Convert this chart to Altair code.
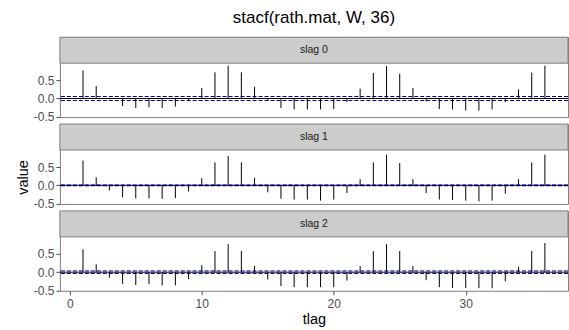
import altair as alt
import pandas as pd

FONT = "Liberation Sans"

tlag = list(range(1, 37))
slag0 = [0.77, 0.34, -0.02, -0.21, -0.26, -0.24, -0.26, -0.22, -0.06, 0.29, 0.72, 0.90,
         0.72, 0.32, -0.06, -0.26, -0.30, -0.30, -0.30, -0.29, -0.10, 0.27, 0.70, 0.89,
         0.68, 0.29, -0.08, -0.29, -0.30, -0.33, -0.33, -0.30, -0.10, 0.25, 0.71, 0.90]
slag1 = [0.68, 0.22, -0.14, -0.33, -0.36, -0.36, -0.37, -0.35, -0.17, 0.20, 0.63, 0.81,
         0.63, 0.21, -0.19, -0.37, -0.39, -0.39, -0.42, -0.39, -0.21, 0.17, 0.63, 0.84,
         0.61, 0.17, -0.21, -0.39, -0.40, -0.42, -0.44, -0.42, -0.23, 0.17, 0.63, 0.84]
slag2 = [0.63, 0.22, -0.15, -0.32, -0.35, -0.33, -0.36, -0.36, -0.19, 0.19, 0.58, 0.77,
         0.58, 0.17, -0.20, -0.38, -0.41, -0.41, -0.41, -0.41, -0.23, 0.17, 0.58, 0.77,
         0.58, 0.17, -0.22, -0.41, -0.43, -0.43, -0.44, -0.44, -0.25, 0.15, 0.58, 0.80]
bounds = [0.055, 0.012, 0.035]
y_ticks = [-0.5, 0.0, 0.5]
y_tick_labels = ["-0.5", "0.0", "0.5"]
x_ticks = [0, 10, 20, 30]
strip_labels = ["slag 0", "slag 1", "slag 2"]
series = [slag0, slag1, slag2]

W = 509
SH = 26
PH = 54
H = SH + PH
LABEL_EXPR = ("datum.value < -0.25 ? '%s' : (datum.value > 0.25 ? '%s' : '%s')"
              % (y_tick_labels[0], y_tick_labels[2], y_tick_labels[1]))


def panel(vals, bound, label, show_x, show_ytitle):
    df = pd.DataFrame({"tlag": tlag, "value": vals})
    ref = pd.DataFrame({"label": [label], "zero": [0.0]})
    xscale = alt.Scale(domain=[-0.75, 37.75], nice=False, zero=False)
    if show_x:
        xenc = alt.X("tlag:Q", scale=xscale,
                     axis=alt.Axis(values=x_ticks, tickCount=10, title="tlag", grid=False,
                                   domain=False,
                                   tickColor="#4D4D4D", tickSize=4, labelPadding=4,
                                   labelColor="#4D4D4D", labelFont=FONT, labelFontSize=12,
                                   labelOverlap=False,
                                   titleFont=FONT, titleFontSize=14.5, titleFontWeight="normal",
                                   titleColor="black", titlePadding=3))
    else:
        xenc = alt.X("tlag:Q", scale=xscale, axis=None)
    yaxis = alt.Axis(values=y_ticks, tickCount=6, labelExpr=LABEL_EXPR, grid=False, domain=False,
                     tickColor="#4D4D4D", tickSize=4, labelPadding=2, labelOverlap=False,
                     labelColor="#4D4D4D", labelFont=FONT, labelFontSize=12,
                     titleFont=FONT, titleFontSize=14.5, titleFontWeight="normal",
                     titleColor="black", titlePadding=3, titleY=SH + PH / 2,
                     title="value" if show_ytitle else None)
    yenc = alt.Y("value:Q", scale=alt.Scale(domain=[-0.51, 0.97], nice=False, zero=False,
                                            range=[H, SH]),
                 axis=yaxis)
    spikes = alt.Chart(df).mark_rule(color="black", strokeWidth=1).encode(
        x=xenc, y=yenc, y2=alt.datum(0))
    rbase = alt.Chart(ref)
    zero = rbase.mark_rule(color="black", strokeWidth=1).encode(y=alt.datum(0))
    up = rbase.mark_rule(color="#00008B", strokeWidth=1, strokeDash=[4, 2]).encode(
        y=alt.datum(bound))
    lo = rbase.mark_rule(color="#00008B", strokeWidth=1, strokeDash=[4, 2]).encode(
        y=alt.datum(-bound))
    rect = rbase.mark_rect(fill="#CCCCCC", stroke="#7F7F7F", strokeWidth=1).encode(
        x=alt.value(0), x2=alt.value(W), y=alt.value(0), y2=alt.value(SH))
    txt = rbase.mark_text(font=FONT, fontSize=10.5, color="#1A1A1A").encode(
        x=alt.value(W / 2), y=alt.value(SH / 2), text="label:N")
    return alt.layer(spikes, zero, up, lo, rect, txt).properties(width=W, height=H)


panels = [panel(series[i], bounds[i], strip_labels[i], i == 2, i == 1) for i in range(3)]

chart = alt.vconcat(*panels, spacing=7, bounds="flush").properties(
    title=alt.TitleParams("stacf(rath.mat, W, 36)", font=FONT, fontSize=17,
                          fontWeight="normal", color="black", anchor="middle",
                          frame="group", offset=9),
    padding={"left": 14, "top": 9, "right": 0, "bottom": 0},
).configure_view(stroke="#7F7F7F", strokeWidth=1)

chart.save("out.html", embed_options={"renderer": "svg", "actions": False})
